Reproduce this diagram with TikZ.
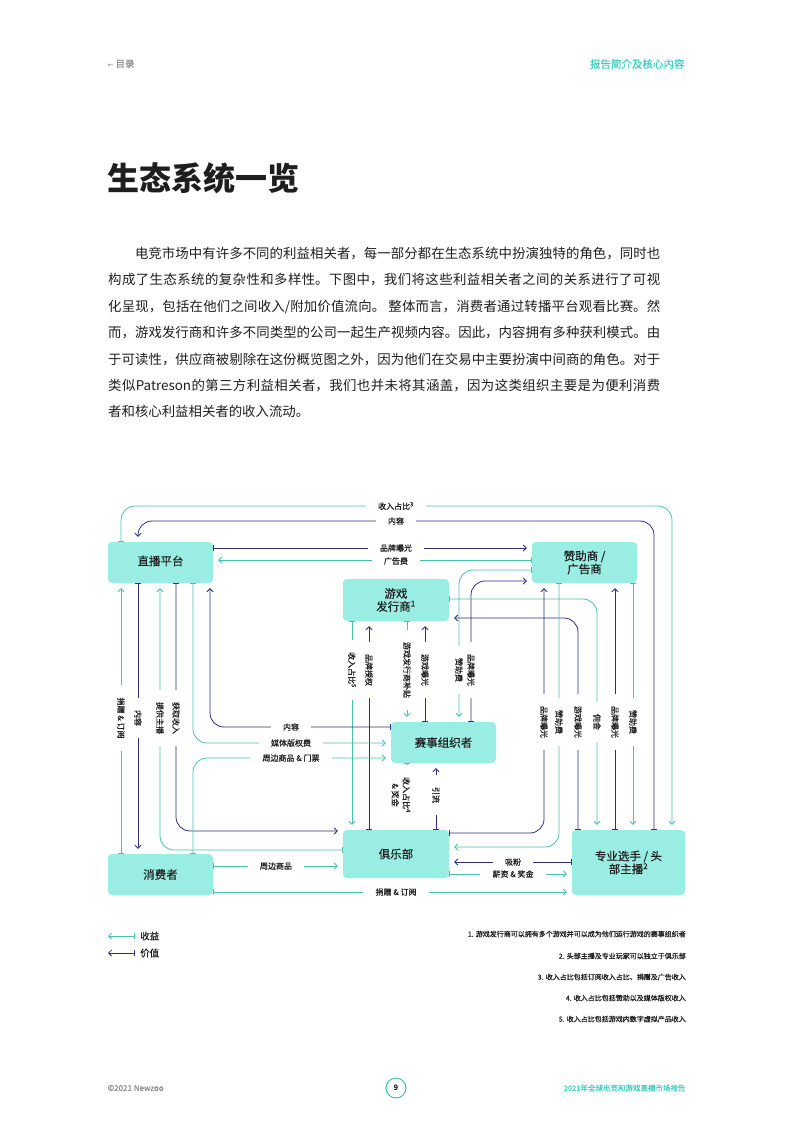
\documentclass[tikz,border=0pt]{standalone}
\usepackage{fontspec}
\setmainfont{Noto Sans CJK SC}
\newfontfamily\symfont{DejaVu Sans}
\newfontfamily\boxfont{Noto Sans CJK SC}[FakeBold=0.3]
\newfontfamily\labelfont{Noto Sans CJK SC}[FakeBold=0.6]
\usepackage{xcolor}
\usetikzlibrary{arrows.meta, positioning}

\definecolor{boxc}{HTML}{9AEDE3}
\definecolor{revc}{HTML}{48C1B1}
\definecolor{valc}{HTML}{2D2F7F}
\definecolor{headc}{HTML}{3ECFC0}
\definecolor{greyc}{HTML}{8A8A8A}
\definecolor{inkc}{HTML}{1E1E1E}

\XeTeXlinebreaklocale "zh"
\XeTeXlinebreakskip=0pt plus 1pt

\begin{document}
\begin{tikzpicture}[
  x=1pt, y=-1pt,
  box/.style={fill=boxc, rounded corners=4pt, inner sep=0pt, align=center, text=inkc, font=\boxfont\fontsize{11.5}{13}\selectfont},
  lbl/.style={fill=white, inner xsep=12pt, inner ysep=1pt, text=inkc, font=\labelfont\fontsize{8}{11}\selectfont},
  vlbl/.style={lbl, rotate=-90},
  rev/.style={draw=revc, line width=0.8pt, rounded corners=14pt, {Bar[width=6pt]}-{Straight Barb[length=3pt,width=6pt]}, shorten >=5pt},
  val/.style={rev, draw=valc},
  note/.style={anchor=east, inner sep=0pt, text=inkc, font=\labelfont\fontsize{7}{8}\selectfont},
]
\fill[white] (0,0) rectangle (793,1122);
\useasboundingbox (0,0) rectangle (793,1122);

% 页眉与正文
\node[anchor=west, text=greyc, font=\boxfont\fontsize{9.5}{11}\selectfont] (back) at (104,64) {{\symfont\fontsize{7}{8}\selectfont ←} 目录};
\node[anchor=east, text=headc, font=\boxfont\fontsize{10.5}{12}\selectfont] (sect) at (688,64) {报告简介及核心内容};
\node[anchor=west, inner sep=0pt, text=inkc, font=\bfseries\fontsize{32}{36}\selectfont] (title) at (107,178) {生态系统一览};
\node[anchor=north west, inner sep=0pt, text width=552pt, align=justify, text=inkc, font=\fontsize{13.4}{26.4}\selectfont] (intro) at (108,247) {\hspace*{2em}电竞市场中有许多不同的利益相关者，每一部分都在生态系统中扮演独特的角色，同时也\linebreak
构成了生态系统的复杂性和多样性。下图中，我们将这些利益相关者之间的关系进行了可视\linebreak
化呈现，包括在他们之间收入/附加价值流向。 整体而言，消费者通过转播平台观看比赛。然\linebreak
而，游戏发行商和许多不同类型的公司一起生产视频内容。因此，内容拥有多种获利模式。由\linebreak
于可读性，供应商被剔除在这份概览图之外，因为他们在交易中主要扮演中间商的角色。对于\linebreak
类似Patreson的第三方利益相关者，我们也并未将其涵盖，因为这类组织主要是为便利消费\linebreak
者和核心利益相关者的收入流动。};

% 节点
\node[box, minimum width=105pt, minimum height=41pt] (live) at (160.5,562.5) {\raisebox{4pt}{直播平台}};
\node[box, minimum width=105pt, minimum height=41pt] (spon) at (584.5,562.5) {赞助商 /\\广告商};
\node[box, minimum width=106pt, minimum height=42pt] (pub) at (396,600) {游戏\\发行商\textsuperscript{1}};
\node[box, minimum width=105pt, minimum height=41pt] (org) at (443.5,742.5) {赛事组织者};
\node[box, minimum width=106pt, minimum height=48pt] (club) at (396,854) {俱乐部};
\node[box, minimum width=105pt, minimum height=41pt] (cons) at (160.5,874.5) {消费者};
\node[box, minimum width=113pt, minimum height=65pt] (pro) at (628.5,862.5) {专业选手 / 头\\部主播\textsuperscript{2}};

% 连线：顶部
\draw[rev] (live.north -| 121,0) |- (400,506) -| (pro.north -| 672,0);
\draw[val] (pro.north -| 654,0) |- (400,521) -| (live.north -| 138,0);
\draw[val] (live.east |- 0,548) -- (spon.west |- 0,548);
\draw[rev] (spon.west |- 0,560) -- (live.east |- 0,560);
\draw[rev] (spon.west |- 0,570) -| (org.north -| 459,0);
\draw[val] (org.north -| 471,0) |- (spon.west |- 0,581);
\draw[rev] (pub.east |- 0,599) -| (pro.north -| 597,0);
\draw[val] (pro.north -| 578,0) |- (pub.east |- 0,618);

% 连线：赞助商下方
\draw[val] (club.east |- 0,833) -| (spon.south -| 544,0);
\draw[rev] (spon.south -| 559,0) |- (club.east |- 0,847);
\draw[val] (pro.north -| 615,0) -- (spon.south -| 615,0);
\draw[rev] (spon.south -| 633,0) -- (pro.north -| 633,0);

% 连线：中间
\draw[rev] (pub.south -| 352,0) -- (club.north -| 352,0);
\draw[val] (club.north -| 369,0) -- (pub.south -| 369,0);
\draw[rev] (pub.south -| 407,0) -- (org.north -| 407,0);
\draw[val] (org.north -| 425,0) -- (pub.south -| 425,0);
\draw[rev] (org.south -| 407,0) -- (club.north -| 407,0);
\draw[val] (club.north -| 436,0) -- (org.south -| 436,0);

% 连线：左侧
\draw[rev] (cons.north -| 121,0) -- (live.south -| 121,0);
\draw[val] (live.south -| 138,0) -- (cons.north -| 138,0);
\draw[rev] (club.west |- 0,850) -| (live.south -| 160,0);
\draw[val] (live.south -| 176,0) |- (club.west |- 0,831);
\draw[rev] (live.south -| 193,0) |- (org.west |- 0,743);
\draw[val] (org.west |- 0,727) -| (live.south -| 210,0);
\draw[rev] (cons.north -| 193,0) |- (org.west |- 0,758);

% 连线：底部
\draw[rev] (cons.east |- 0,866) -- (club.west |- 0,866);
\draw[rev] (cons.east |- 0,892) -- (pro.west |- 0,892);
\draw[val] (pro.west |- 0,862) -- (club.east |- 0,862);
\draw[rev] (club.east |- 0,874) -- (pro.west |- 0,874);

% 标签
\node[lbl] (l1) at (396,506) {收入占比\textsuperscript{3}};
\node[lbl] (l2) at (396,521) {内容};
\node[lbl] (l3) at (396,548) {品牌曝光};
\node[lbl] (l4) at (396,561) {广告费};
\node[vlbl] (l5) at (459,670) {赞助费};
\node[vlbl] (l6) at (471,670) {品牌曝光};
\node[vlbl] (l7) at (352,670) {收入占比\textsuperscript{5}};
\node[vlbl] (l8) at (369,670) {品牌授权};
\node[vlbl] (l9) at (407,670) {游戏发行商补贴};
\node[vlbl] (l10) at (425,670) {游戏曝光};
\node[vlbl] (l11) at (544,722) {品牌曝光};
\node[vlbl] (l12) at (559,722) {赞助费};
\node[vlbl] (l13) at (578,722) {游戏曝光};
\node[vlbl] (l14) at (597,722) {佣金};
\node[vlbl] (l15) at (615,722) {品牌曝光};
\node[vlbl] (l16) at (633,722) {赞助费};
\node[vlbl] (l17) at (121,718) {捐赠 \& 订阅};
\node[vlbl] (l18) at (138,718) {内容};
\node[vlbl] (l19) at (160,718) {提供主播};
\node[vlbl] (l20) at (176,718) {获取收入};
\node[lbl] (l21) at (291,727) {内容};
\node[lbl] (l22) at (291,743) {媒体版权费};
\node[lbl] (l23) at (291,758) {周边商品 \& 门票};
\node[vlbl, align=center] (l24) at (401,795) {收入占比\textsuperscript{4}\\\& 奖金};
\node[vlbl] (l25) at (436,795) {引流};
\node[lbl] (l26) at (276,866) {周边商品};
\node[lbl] (l27) at (396,892) {捐赠 \& 订阅};
\node[lbl] (l28) at (513,862) {吸粉};
\node[lbl] (l29) at (513,874) {薪资 \& 奖金};

% 图例
\coordinate (revtip) at (108,936);
\coordinate (valtip) at (108,953);
\node[anchor=west, inner xsep=5pt, text=inkc, font=\boxfont\fontsize{9.5}{11}\selectfont] (legrev) at (135,936) {收益};
\node[anchor=west, inner xsep=5pt, text=inkc, font=\boxfont\fontsize{9.5}{11}\selectfont] (legval) at (135,953) {价值};
\draw[rev, shorten >=0pt] (legrev.west) -- (revtip);
\draw[val, shorten >=0pt] (legval.west) -- (valtip);

% 注释
\node[note] (n1) at (686,934) {1. 游戏发行商可以拥有多个游戏并可以成为他们运行游戏的赛事组织者};
\node[note] (n2) at (686,956) {2. 头部主播及专业玩家可以独立于俱乐部};
\node[note] (n3) at (686,977) {3. 收入占比包括订阅收入占比、捐赠及广告收入};
\node[note] (n4) at (686,998) {4. 收入占比包括赞助以及媒体版权收入};
\node[note] (n5) at (686,1019) {5. 收入占比包括游戏内数字虚拟产品收入};

% 页脚
\node[anchor=west, text=greyc, font=\boxfont\fontsize{8}{10}\selectfont] (copy) at (104,1088) {©2021 Newzoo};
\node[circle, draw=revc, line width=1pt, minimum size=20pt, inner sep=0pt, text=inkc, font=\bfseries\fontsize{7.5}{8}\selectfont] (page) at (396,1088) {9};
\node[anchor=east, text=headc, font=\boxfont\fontsize{7.5}{9}\selectfont] (rep) at (689,1088) {2021年全球电竞和游戏直播市场报告};
\end{tikzpicture}
\end{document}
